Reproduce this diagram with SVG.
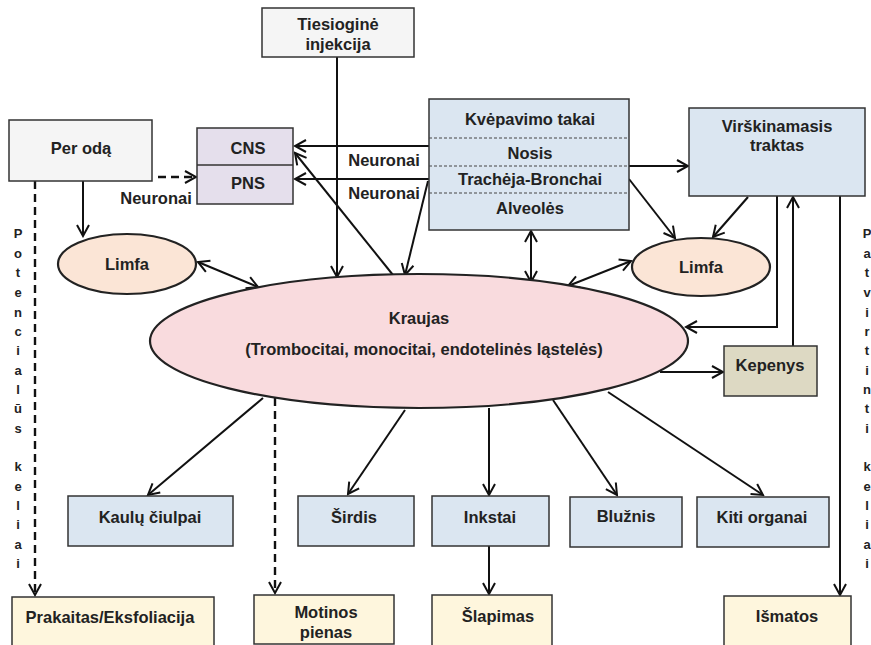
<svg xmlns="http://www.w3.org/2000/svg" width="871" height="645" viewBox="0 0 871 645">
<defs>
<style>
text{font-family:"Liberation Sans",Arial,sans-serif;font-weight:bold;font-size:16.5px;fill:#222;text-anchor:middle}
.v{font-size:13px}
.box{stroke:#333;stroke-width:1.5}
.gray{fill:#f5f5f5}
.lav{fill:#e5dfec}
.blue{fill:#dbe6f1}
.peach{fill:#fbe5d6}
.pink{fill:#f9dbde}
.khaki{fill:#ddd9c3}
.cream{fill:#fef6dd}
.ell{stroke:#222;stroke-width:2.2}
.c{fill:none;stroke:#111;stroke-width:2;marker-end:url(#ah)}
.d{stroke-dasharray:8,5;stroke-width:2.4}
.b{marker-start:url(#ah)}
.sep{stroke:#444;stroke-width:1;stroke-dasharray:3,2}
</style>
<marker id="ah" markerUnits="userSpaceOnUse" markerWidth="15" markerHeight="15" viewBox="0 0 15 15" refX="13" refY="7.5" orient="auto-start-reverse">
<path d="M2,1.5 L13,7.5 L2,13.5" fill="none" stroke="#111" stroke-width="2"/>
</marker>
</defs>

<g id="connectors">
<line class="c" x1="337" y1="57" x2="337" y2="277"/>
<line class="c" x1="430" y1="146" x2="295" y2="146"/>
<line class="c" x1="430" y1="179" x2="295" y2="179"/>
<line class="c" x1="393" y1="275" x2="295" y2="153"/>
<line class="c" x1="428" y1="181" x2="405" y2="275"/>
<line class="c d" x1="158" y1="177" x2="196" y2="177"/>
<line class="c" x1="83" y1="181" x2="83" y2="236"/>
<line class="c d" x1="35" y1="181" x2="35" y2="595"/>
<line class="c b" x1="198" y1="262" x2="258" y2="287"/>
<line class="c b" x1="531" y1="231" x2="531" y2="282"/>
<line class="c b" x1="631" y1="261" x2="568" y2="286"/>
<line class="c" x1="629" y1="166" x2="688" y2="166"/>
<line class="c" x1="629" y1="179" x2="675" y2="238"/>
<line class="c" x1="748" y1="197" x2="713" y2="237"/>
<polyline class="c" points="777,196 777,327 686,327"/>
<line class="c" x1="793" y1="346" x2="793" y2="197"/>
<line class="c" x1="660" y1="372" x2="723" y2="372"/>
<line class="c" x1="840" y1="196" x2="840" y2="595"/>
<line class="c" x1="263" y1="398" x2="148" y2="495"/>
<line class="c d" x1="275" y1="398" x2="275" y2="593"/>
<line class="c" x1="405" y1="410" x2="348" y2="494"/>
<line class="c" x1="489" y1="408" x2="489" y2="495"/>
<line class="c" x1="553" y1="400" x2="617" y2="495"/>
<line class="c" x1="608" y1="392" x2="763" y2="495"/>
<line class="c" x1="489" y1="546" x2="489" y2="594"/>
</g>

<g id="tiesiogine">
<rect class="box gray" x="262" y="8" width="152" height="49"/>
<text x="338" y="30">Tiesioginė</text>
<text x="338" y="50">injekcija</text>
</g>
<g id="per-oda">
<rect class="box gray" x="9" y="120" width="143" height="61"/>
<text x="81" y="154">Per odą</text>
</g>
<g id="cns-pns">
<rect class="box lav" x="197" y="128" width="96" height="76"/>
<line class="box" x1="197" y1="165" x2="293" y2="165"/>
<text x="248" y="154">CNS</text>
<text x="248" y="189">PNS</text>
</g>
<g id="neuronai-labels">
<text x="156" y="204">Neuronai</text>
<text x="384" y="166">Neuronai</text>
<text x="384" y="199">Neuronai</text>
</g>
<g id="kvepavimo">
<rect class="box blue" x="429" y="99" width="200" height="131"/>
<line class="sep" x1="429" y1="138" x2="629" y2="138"/>
<line class="sep" x1="429" y1="166" x2="629" y2="166"/>
<line class="sep" x1="429" y1="193" x2="629" y2="193"/>
<text x="530" y="125">Kvėpavimo takai</text>
<text x="530" y="159">Nosis</text>
<text x="530" y="185">Trachėja-Bronchai</text>
<text x="530" y="214">Alveolės</text>
</g>
<g id="virskinamasis">
<rect class="box blue" x="689" y="108" width="176" height="88"/>
<text x="777" y="132">Virškinamasis</text>
<text x="777" y="151">traktas</text>
</g>
<g id="limfa-left">
<ellipse class="ell peach" cx="127" cy="264" rx="69" ry="30"/>
<text x="127" y="270">Limfa</text>
</g>
<g id="limfa-right">
<ellipse class="ell peach" cx="701" cy="267" rx="69" ry="29"/>
<text x="701" y="273">Limfa</text>
</g>
<g id="kraujas">
<ellipse class="ell pink" cx="419" cy="341" rx="269" ry="67"/>
<text x="419" y="324">Kraujas</text>
<text x="424" y="355">(Trombocitai, monocitai, endotelinės ląstelės)</text>
</g>
<g id="kepenys">
<rect class="box khaki" x="724" y="346" width="93" height="50"/>
<text x="770" y="371">Kepenys</text>
</g>
<g id="kaulu">
<rect class="box blue" x="68" y="496" width="165" height="50"/>
<text x="150" y="523">Kaulų čiulpai</text>
</g>
<g id="sirdis">
<rect class="box blue" x="298" y="496" width="116" height="50"/>
<text x="354" y="523">Širdis</text>
</g>
<g id="inkstai">
<rect class="box blue" x="432" y="496" width="117" height="50"/>
<text x="490" y="523">Inkstai</text>
</g>
<g id="bluznis">
<rect class="box blue" x="570" y="497" width="112" height="50"/>
<text x="626" y="522">Blužnis</text>
</g>
<g id="kiti">
<rect class="box blue" x="697" y="497" width="132" height="50"/>
<text x="762" y="523">Kiti organai</text>
</g>
<g id="prakaitas">
<rect class="box cream" x="12" y="597" width="202" height="60"/>
<text x="110" y="623">Prakaitas/Eksfoliacija</text>
</g>
<g id="motinos">
<rect class="box cream" x="254" y="595" width="140" height="49"/>
<text x="326" y="618">Motinos</text>
<text x="326" y="638">pienas</text>
</g>
<g id="slapimas">
<rect class="box cream" x="432" y="595" width="120" height="60"/>
<text x="498" y="622">Šlapimas</text>
</g>
<g id="ismatos">
<rect class="box cream" x="724" y="596" width="127" height="60"/>
<text x="787" y="622">Išmatos</text>
</g>
<g id="potencialus-keliai">
<text class="v" x="18" y="238">P</text><text class="v" x="18" y="258">o</text><text class="v" x="18" y="277">t</text><text class="v" x="18" y="297">e</text><text class="v" x="18" y="317">n</text><text class="v" x="18" y="336">c</text><text class="v" x="18" y="355">i</text><text class="v" x="18" y="375">a</text><text class="v" x="18" y="394">l</text><text class="v" x="18" y="413">ū</text><text class="v" x="18" y="433">s</text><text class="v" x="18" y="471">k</text><text class="v" x="18" y="491">e</text><text class="v" x="18" y="510">l</text><text class="v" x="18" y="529">i</text><text class="v" x="18" y="549">a</text><text class="v" x="18" y="568">i</text>
</g>
<g id="patvirtinti-keliai">
<text class="v" x="867" y="238">P</text><text class="v" x="867" y="258">a</text><text class="v" x="867" y="277">t</text><text class="v" x="867" y="297">v</text><text class="v" x="867" y="317">i</text><text class="v" x="867" y="336">r</text><text class="v" x="867" y="355">t</text><text class="v" x="867" y="375">i</text><text class="v" x="867" y="394">n</text><text class="v" x="867" y="413">t</text><text class="v" x="867" y="433">i</text><text class="v" x="867" y="471">k</text><text class="v" x="867" y="491">e</text><text class="v" x="867" y="510">l</text><text class="v" x="867" y="529">i</text><text class="v" x="867" y="549">a</text><text class="v" x="867" y="568">i</text>
</g>
</svg>
